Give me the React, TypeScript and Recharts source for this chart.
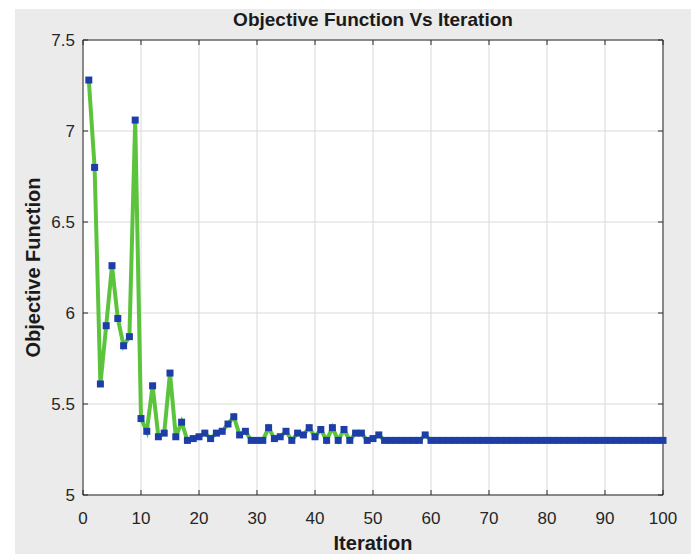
import { CartesianGrid, Line, LineChart, XAxis, YAxis } from 'recharts';

// objective value at iterations 1..100
const objective = [
  7.28, 6.8, 5.61, 5.93, 6.26, 5.97, 5.82, 5.87, 7.06, 5.42,
  5.35, 5.6, 5.32, 5.34, 5.67, 5.32, 5.4, 5.3, 5.31, 5.32,
  5.34, 5.31, 5.34, 5.35, 5.39, 5.43, 5.33, 5.35, 5.3, 5.3,
  5.3, 5.37, 5.31, 5.32, 5.35, 5.3, 5.34, 5.33, 5.37, 5.32,
  5.36, 5.3, 5.37, 5.3, 5.36, 5.3, 5.34, 5.34, 5.3, 5.31,
  5.33, 5.3, 5.3, 5.3, 5.3, 5.3, 5.3, 5.3, 5.33, 5.3,
  5.3, 5.3, 5.3, 5.3, 5.3, 5.3, 5.3, 5.3, 5.3, 5.3,
  5.3, 5.3, 5.3, 5.3, 5.3, 5.3, 5.3, 5.3, 5.3, 5.3,
  5.3, 5.3, 5.3, 5.3, 5.3, 5.3, 5.3, 5.3, 5.3, 5.3,
  5.3, 5.3, 5.3, 5.3, 5.3, 5.3, 5.3, 5.3, 5.3, 5.3
];

const xTicks = [0, 10, 20, 30, 40, 50, 60, 70, 80, 90, 100];
const yTicks = [5, 5.5, 6, 6.5, 7, 7.5];

const title = 'Objective Function Vs Iteration';
const xLabel = 'Iteration';
const yLabel = 'Objective Function';

const data = objective.map((value, i) => ({ iteration: i + 1, value }));

const FONT = '"Liberation Sans", Arial, Helvetica, sans-serif';
const AXIS = '#2b2b2b';
const TEXT = '#262626';

function SquareDot(props: any) {
  const { cx, cy, index } = props;
  if (cx == null || cy == null) return <g key={index} />;
  return <rect key={index} x={cx - 3.5} y={cy - 3.5} width={7} height={7} fill="#1d3ea8" />;
}

function BottomTick(props: any) {
  const { x, y, payload } = props;
  return (
    <g>
      <line x1={x} x2={x} y1={y - 17} y2={y - 22} stroke={AXIS} />
      <text x={x} y={y} dy="0.71em" textAnchor="middle" fontSize={17} fill={TEXT} fontFamily={FONT}>
        {payload.value}
      </text>
    </g>
  );
}

function LeftTick(props: any) {
  const { x, y, payload } = props;
  return (
    <g>
      <line x1={x + 8} x2={x + 13} y1={y} y2={y} stroke={AXIS} />
      <text x={x} y={y} dy="0.355em" textAnchor="end" fontSize={17} fill={TEXT} fontFamily={FONT}>
        {payload.value}
      </text>
    </g>
  );
}

function TopTick(props: any) {
  const { x, y } = props;
  return <line x1={x} x2={x} y1={y} y2={y + 5} stroke={AXIS} />;
}

function RightTick(props: any) {
  const { x, y } = props;
  return <line x1={x} x2={x - 5} y1={y} y2={y} stroke={AXIS} />;
}

export default function App() {
  return (
    <div style={{ position: 'absolute', left: 0, top: 0, width: 691, height: 554, background: '#ffffff', fontFamily: FONT }}>
      <div style={{ position: 'absolute', left: 15, top: 9, right: 0, bottom: 0, background: '#ebebeb' }} />
      <div style={{ position: 'absolute', left: 0, top: 0 }}>
        <LineChart width={691} height={554} data={data} margin={{ top: 39, right: 27, bottom: 0, left: 0 }}>
          <CartesianGrid stroke="#d9d9d9" fill="#ffffff" fillOpacity={1} />
          <XAxis
            dataKey="iteration"
            type="number"
            domain={[0, 100]}
            ticks={xTicks}
            height={59}
            tickSize={0}
            tickMargin={17}
            tickLine={false}
            axisLine={{ stroke: AXIS }}
            tick={<BottomTick />}
            interval={0}
            label={{
              value: xLabel,
              content: ({ viewBox }: any) => (
                <text
                  x={viewBox.x + viewBox.width / 2}
                  y={viewBox.y + 48}
                  textAnchor="middle"
                  dominantBaseline="central"
                  fontSize={20}
                  fontWeight="bold"
                  fill="#1a1a1a"
                  fontFamily={FONT}
                >
                  {xLabel}
                </text>
              )
            }}
          />
          <XAxis
            xAxisId="top"
            orientation="top"
            dataKey="iteration"
            type="number"
            domain={[0, 100]}
            ticks={xTicks}
            height={1}
            tickSize={0}
            tickMargin={0}
            tickLine={false}
            axisLine={{ stroke: AXIS }}
            tick={<TopTick />}
            interval={0}
            label={{
              value: title,
              content: ({ viewBox }: any) => (
                <text
                  x={viewBox.x + viewBox.width / 2}
                  y={viewBox.y - 20}
                  textAnchor="middle"
                  dominantBaseline="central"
                  fontSize={19}
                  fontWeight="bold"
                  fill="#1a1a1a"
                  fontFamily={FONT}
                >
                  {title}
                </text>
              )
            }}
          />
          <YAxis
            type="number"
            domain={[5, 7.5]}
            ticks={yTicks}
            width={83}
            tickSize={0}
            tickMargin={8}
            tickLine={false}
            axisLine={{ stroke: AXIS }}
            tick={<LeftTick />}
            interval={0}
            label={{
              value: yLabel,
              content: ({ viewBox }: any) => {
                const cx = viewBox.x + 33;
                const cy = viewBox.y + viewBox.height / 2;
                return (
                  <text
                    x={cx}
                    y={cy}
                    transform={`rotate(-90, ${cx}, ${cy})`}
                    textAnchor="middle"
                    dominantBaseline="central"
                    fontSize={20}
                    fontWeight="bold"
                    fill="#1a1a1a"
                    fontFamily={FONT}
                  >
                    {yLabel}
                  </text>
                );
              }
            }}
          />
          <YAxis
            yAxisId="right"
            orientation="right"
            type="number"
            domain={[5, 7.5]}
            ticks={yTicks}
            width={1}
            tickSize={0}
            tickMargin={0}
            tickLine={false}
            axisLine={{ stroke: AXIS }}
            tick={<RightTick />}
            interval={0}
          />
          {/* invisible copy so the top and right frame axes get drawn */}
          <Line
            xAxisId="top"
            yAxisId="right"
            type="linear"
            dataKey="value"
            stroke="none"
            dot={false}
            activeDot={false}
            legendType="none"
            isAnimationActive={false}
          />
          <Line
            type="linear"
            dataKey="value"
            stroke="#5cc43c"
            strokeWidth={4}
            dot={SquareDot}
            activeDot={false}
            isAnimationActive={false}
          />
        </LineChart>
      </div>
    </div>
  );
}
